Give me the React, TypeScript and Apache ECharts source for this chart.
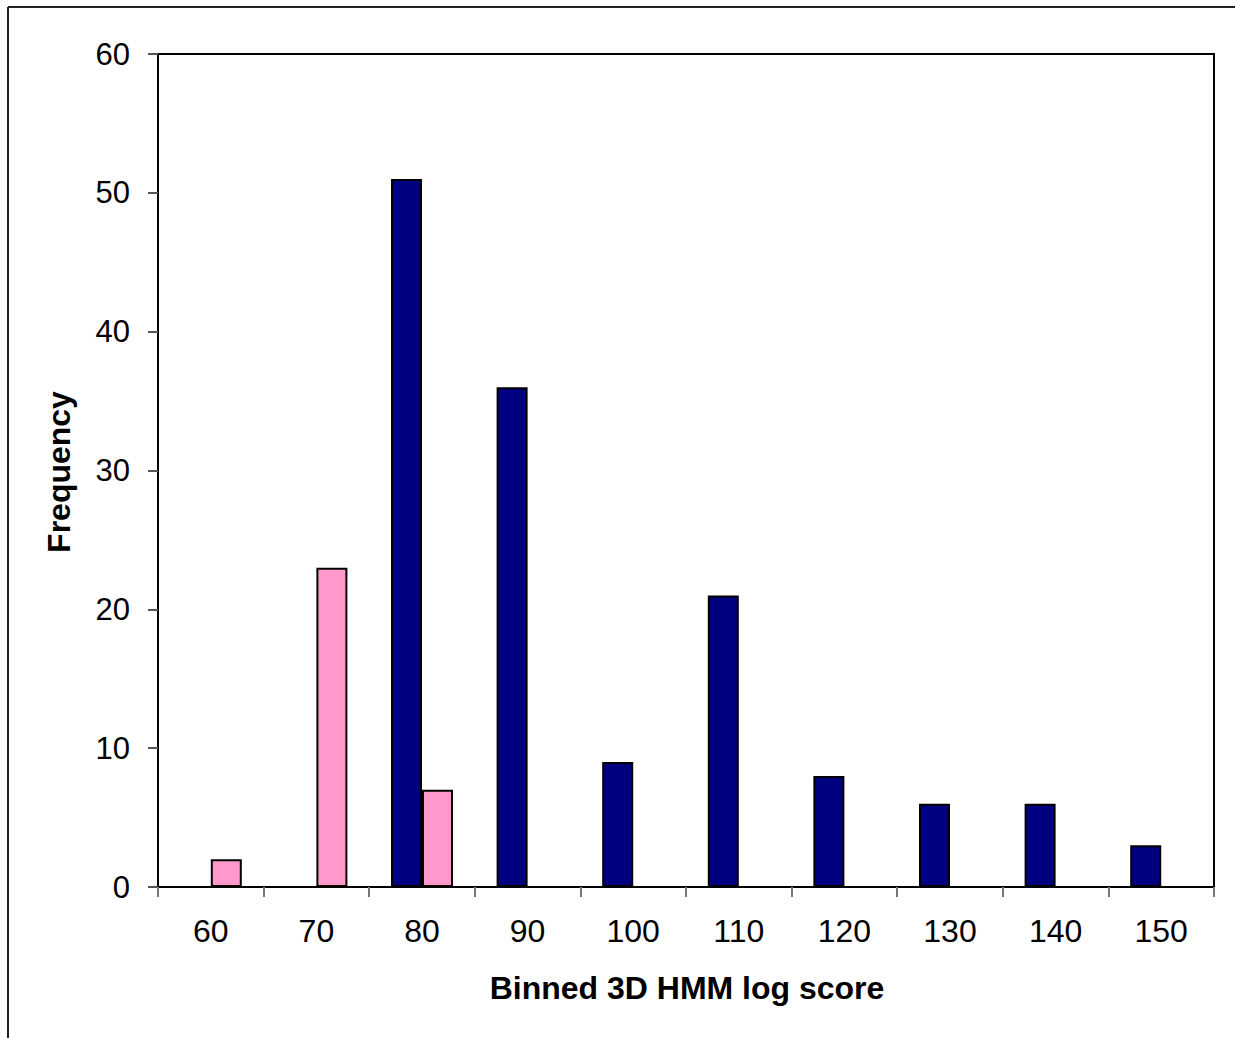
import React, { useEffect, useRef } from "react";
import * as echarts from "echarts";

const categories = ["60", "70", "80", "90", "100", "110", "120", "130", "140", "150"];
const navySeries = [0, 0, 51, 36, 9, 21, 8, 6, 6, 3];
const pinkSeries = [2, 23, 7, 0, 0, 0, 0, 0, 0, 0];
const xTitle = "Binned 3D HMM log score";
const yTitle = "Frequency";

const FONT = "'Liberation Sans', Arial, sans-serif";

export default function App() {
  const ref = useRef<HTMLDivElement>(null);
  useEffect(() => {
    if (!ref.current) return;
    const chart = echarts.init(ref.current, undefined, { renderer: "svg" });
    chart.setOption({
      animation: false,
      backgroundColor: "#ffffff",
      grid: {
        left: 158,
        top: 54,
        width: 1056,
        height: 833,
        show: true,
        borderColor: "#000000",
        borderWidth: 2,
        backgroundColor: "transparent",
      },
      xAxis: {
        type: "category",
        data: categories,
        boundaryGap: true,
        axisLine: { show: true, lineStyle: { color: "#000000", width: 2 } },
        axisTick: { show: true, alignWithLabel: false, length: 10, lineStyle: { color: "#777777", width: 2 } },
        axisLabel: { color: "#000000", fontSize: 32, fontFamily: FONT, margin: 28 },
        splitLine: { show: false },
      },
      yAxis: {
        type: "value",
        min: 0,
        max: 60,
        interval: 10,
        axisLine: { show: true, lineStyle: { color: "#000000", width: 2 } },
        axisTick: { show: true, length: 10, lineStyle: { color: "#555555", width: 2 } },
        axisLabel: { color: "#000000", fontSize: 31, fontFamily: FONT, margin: 28 },
        splitLine: { show: false },
      },
      series: [
        {
          type: "bar",
          data: navySeries,
          barWidth: 31,
          barGap: "0%",
          itemStyle: { color: "#000080", borderColor: "#000000", borderWidth: 2 },
        },
        {
          type: "bar",
          data: pinkSeries,
          barWidth: 31,
          barGap: "0%",
          itemStyle: { color: "#FF99CC", borderColor: "#000000", borderWidth: 2 },
        },
      ],
      graphic: [
        { type: "line", shape: { x1: 8, y1: 7, x2: 1235, y2: 7 }, style: { stroke: "#222222", lineWidth: 2 } },
        { type: "line", shape: { x1: 8, y1: 7, x2: 8, y2: 1038 }, style: { stroke: "#222222", lineWidth: 2 } },
        {
          type: "text",
          x: 687,
          y: 988,
          style: {
            text: xTitle,
            font: `bold 32px ${FONT}`,
            fill: "#000000",
            textAlign: "center",
            textVerticalAlign: "middle",
          },
        },
        {
          type: "text",
          x: 59,
          y: 472,
          rotation: Math.PI / 2,
          style: {
            text: yTitle,
            font: `bold 32px ${FONT}`,
            fill: "#000000",
            textAlign: "center",
            textVerticalAlign: "middle",
          },
        },
      ],
    });
    return () => chart.dispose();
  }, []);
  return (
    <div
      ref={ref}
      style={{ position: "absolute", left: 0, top: 0, width: 1235, height: 1038, background: "#fff" }}
    />
  );
}
